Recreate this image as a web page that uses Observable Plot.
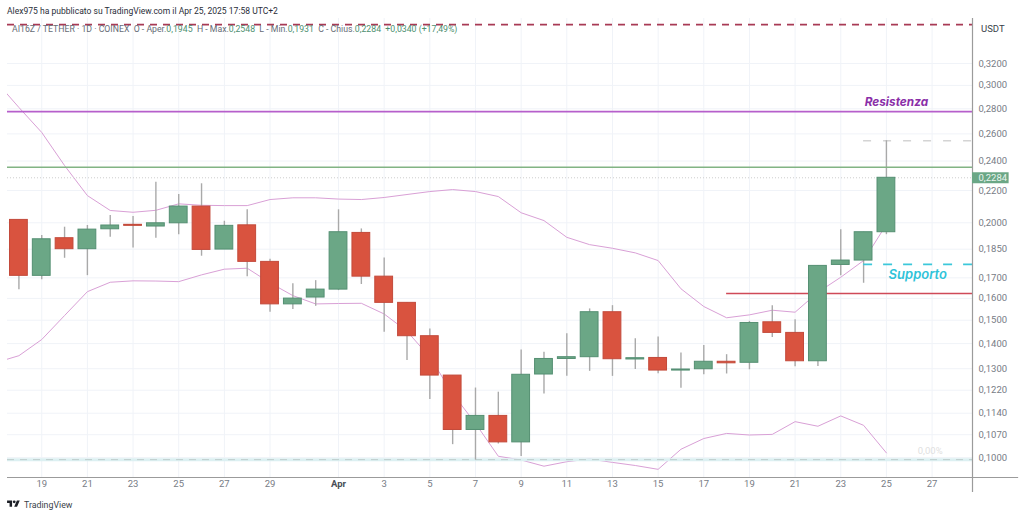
<!doctype html>
<html><head><meta charset="utf-8">
<script src="https://cdn.jsdelivr.net/npm/d3@7"></script>
<script src="https://cdn.jsdelivr.net/npm/@observablehq/plot@0.6"></script>
<style>
html,body{margin:0;padding:0;background:#fff;overflow:hidden}
#wrap{position:relative;width:1024px;height:516px;font-family:Roboto,sans-serif}
#wrap svg.plot{display:block}
.ov{position:absolute;white-space:pre;line-height:12px}
.g{color:#4d8f70}.k{color:#666c76}
</style></head><body>
<div id="wrap"></div>
<script>
const firstDay = "2025-03-18";
const opens  = [.2017,.1710,.1911,.1850,.1962,.1988,.1978,.1997,.2098,.1848,.1985,.1782,.1572,.1604,.1642,.1941,.1706,.1579,.1431,.1274,.1085,.1131,.1046,.1278,.1338,.1345,.1536,.1336,.1342,.1293,.1298,.1327,.1323,.1491,.1445,.1329,.1766,.1789,.1945];
const highs  = [.2017,.1926,.1974,.1984,.2043,.2037,.2254,.2174,.2244,.2009,.2078,.1796,.1670,.1686,.2078,.1964,.1803,.1579,.1462,.1274,.1228,.1213,.1374,.1365,.1441,.1551,.1566,.1420,.1428,.1362,.1392,.1355,.1495,.1566,.1502,.1761,.1959,.1945,.2548];
const lows   = [.1641,.1690,.1801,.1711,.1916,.1857,.1911,.1930,.1812,.1848,.1706,.1536,.1548,.1563,.1637,.1667,.1448,.1332,.1187,.1039,.0993,.1041,.1003,.1207,.1271,.1290,.1271,.1297,.1281,.1227,.1277,.1280,.1296,.1426,.1308,.1309,.1711,.1673,.1931];
const closes = [.1710,.1905,.1850,.1960,.1984,.1982,.1997,.2098,.1846,.1982,.1782,.1572,.1599,.1642,.1945,.1706,.1579,.1431,.1274,.1085,.1131,.1046,.1277,.1338,.1345,.1536,.1337,.1341,.1293,.1297,.1327,.1321,.1488,.1445,.1329,.1761,.1789,.1945,.2284];
const upperBand = [.3035,.2811,.2611,.2368,.2167,.2074,.2063,.2075,.2115,.2106,.2104,.2104,.2142,.2153,.2153,.2145,.2142,.2155,.2174,.2193,.2206,.2193,.2161,.2060,.2013,.1916,.1875,.1855,.1830,.1789,.1646,.1562,.1511,.1524,.1545,.1536,.1629,.1703,.1789,.1990];
const lowerBand = [.1324,.1351,.1417,.1521,.1632,.1678,.1685,.1684,.1681,.1715,.1744,.1749,.1675,.1613,.1574,.1576,.1577,.1528,.1452,.1345,.1208,.1106,.1004,.0993,.0975,.0988,.0996,.0986,.0977,.0966,.1025,.1058,.1074,.1069,.1071,.1112,.1097,.1131,.1100,.1014];
const yTicks = [.32,.30,.28,.26,.24,.22,.20,.185,.17,.16,.15,.14,.13,.122,.114,.107,.10];
const xTickDays = ["03-19","03-21","03-23","03-25","03-27","03-29","04-03","04-05","04-07","04-09","04-11","04-13","04-15","04-17","04-19","04-21","04-23","04-25","04-27"];
const aprilTick = "04-01";
const resistanceTop = .359, resistance = .2777, lastHigh = .2548, greenLevel = .2356, lastClose = .2284, supportDash = .1769, supportLine = .1623, zeroLevel = .0994;

const day = s => new Date(`2025-${s}T00:00:00Z`);
const shift = (d, n) => new Date(+d + n * 864e5);
const start = new Date(firstDay + "T00:00:00Z");
const candles = opens.map((o, i) => ({date: shift(start, i), open: o, high: highs[i], low: lows[i], close: closes[i]}));
const upper = upperBand.map((v, i) => ({date: shift(start, i - 1), v}));
const lower = lowerBand.map((v, i) => ({date: shift(start, i - 1), v}));
const xMin = new Date("2025-03-17T12:00:00Z"), xMax = new Date("2025-04-28T18:30:00Z");
const yMin = .0943, yMax = .3655;
const fmt = v => d3.format(".4f")(v).replace(".", ",");
const ticksX = xTickDays.map(day);
const gridC = "#f0f3f8";

const plot = Plot.plot({
  width: 1024, height: 516, marginLeft: 7, marginRight: 52, marginTop: 18, marginBottom: 39,
  style: {fontFamily: "Roboto, sans-serif", fontSize: "9.5px", background: "transparent"},
  x: {type: "utc", domain: [xMin, xMax]},
  y: {type: "log", domain: [yMin, yMax]},
  color: {type: "identity"},
  marks: [
    Plot.gridY({ticks: yTicks, stroke: gridC, strokeOpacity: 1}),
    Plot.gridX({ticks: [...ticksX, day(aprilTick)], stroke: gridC, strokeOpacity: 1}),
    Plot.line(upper, {x: "date", y: "v", stroke: "#d9a0d6", strokeWidth: 1, clip: true}),
    Plot.line(lower, {x: "date", y: "v", stroke: "#d9a0d6", strokeWidth: 1, clip: true}),
    Plot.ruleY([lastClose], {stroke: "#cdcdcd", strokeWidth: 1, strokeDasharray: "1,2"}),
    Plot.ruleY([zeroLevel], {stroke: "#dcf0f2", strokeWidth: 3}),
    Plot.ruleY([zeroLevel], {stroke: "#bdcccc", strokeWidth: 1, strokeDasharray: "7,6"}),
    Plot.ruleY([supportLine], {x1: day("04-18"), x2: xMax, stroke: "#cf4a58", strokeWidth: 1.6}),
    Plot.ruleY([lastHigh], {x1: day("04-24"), x2: xMax, stroke: "#d4d4d4", strokeWidth: 1.5, strokeDasharray: "8,12"}),
    Plot.ruleX(candles, {x: "date", y1: "low", y2: "high", stroke: "#a9a9a9", strokeWidth: 1.4}),
    Plot.rect(candles, {
      x1: d => shift(d.date, -0.39), x2: d => shift(d.date, 0.39), y1: "open", y2: "close",
      fill: d => d.close >= d.open ? "#6ba786" : "#d9533f",
      stroke: d => d.close >= d.open ? "#548f72" : "#c34a3b", strokeWidth: 1
    }),
    Plot.ruleY([supportDash], {x1: day("04-24"), x2: xMax, stroke: "#3cc8da", strokeWidth: 1.8, strokeDasharray: "9,11"}),
    Plot.ruleY([greenLevel], {stroke: "#82b484", strokeWidth: 1.6}),
    Plot.ruleY([resistance], {stroke: "#b65fcb", strokeWidth: 1.6}),
    Plot.ruleY([resistanceTop], {stroke: "#a83a55", strokeWidth: 1.6, strokeDasharray: "7,6"}),
    Plot.text(["Resistenza"], {x: new Date("2025-04-25T10:30:00Z"), y: .2852, text: d => d, fill: "#8a2fa8", fontFamily: "Inter, sans-serif", fontSize: 11.8, fontWeight: 700, fontStyle: "italic"}),
    Plot.text(["Supporto"], {x: new Date("2025-04-26T09:00:00Z"), y: .1716, text: d => d, fill: "#2fc3d9", fontFamily: "Inter, sans-serif", fontSize: 13, fontWeight: 600, fontStyle: "italic"}),
    Plot.text(["0,00%"], {x: new Date("2025-04-26T22:00:00Z"), y: .102, text: d => d, fill: "#dfdfdf", fontSize: 9.5}),
    Plot.ruleX([xMax], {y1: yMax, y2: .0902, stroke: "#9b9b9b", strokeWidth: 1.2}),
    Plot.ruleY([yMin], {x1: xMin, x2: new Date("2025-04-30T19:00:00Z"), stroke: "#9b9b9b", strokeWidth: 1.2}),
    Plot.axisX({ticks: ticksX, tickFormat: d => d.getUTCDate(), tickSize: 0, tickPadding: 3, label: null, fill: "#777c85"}),
    Plot.axisX({ticks: [day(aprilTick)], tickFormat: () => "Apr", tickSize: 0, tickPadding: 3, label: null, fill: "#4a4f57", fontWeight: 700}),
    Plot.axisY({anchor: "right", ticks: yTicks, tickFormat: fmt, tickSize: 0, tickPadding: 6, label: null, fill: "#777c85"}),
    Plot.ruleY([lastClose], {x1: xMax, x2: new Date("2025-04-30T09:00:00Z"), stroke: "#6ba786", strokeWidth: 11}),
    Plot.text([lastClose], {x: xMax, y: d => d, text: fmt, dx: 6, textAnchor: "start", fill: "#e9f5ee"})
  ]
});
plot.classList.add("plot");
const wrap = document.getElementById("wrap");
wrap.appendChild(plot);

function overlay(html, css) {
  const el = document.createElement("div");
  el.className = "ov";
  el.style.cssText = css;
  el.innerHTML = html;
  wrap.appendChild(el);
}
overlay("Alex975 ha pubblicato su TradingView.com il Apr 25, 2025 17:58 UTC+2", "left:7px;top:5px;font-size:8.55px;color:#2a2e39");
overlay('<span class="k">AI16Z / TETHER · 1D · COINEX  O - Aper.</span><span class="g">0,1945</span><span class="k">  H - Max.</span><span class="g">0,2548</span><span class="k">  L - Min.</span><span class="g">0,1931</span><span class="k">  C - Chius.</span><span class="g">0,2284  +0,0340 (+17,49%)</span>', "left:12px;top:23px;font-size:8.72px");
overlay("USDT", "left:981px;top:23px;font-size:9.5px;color:#3a3f49");
overlay('<svg width="13" height="10" viewBox="0 0 36 28" style="vertical-align:-1px;margin-right:4px"><path d="M14 22H7V11H0V4h14v18zM28 22h-8l7.5-18h8L28 22z" fill="#1c1f26"/><circle cx="20" cy="8" r="4" fill="#1c1f26"/></svg>TradingView', "left:7px;top:499px;font-size:8.8px;color:#3a3f49");
</script>
</body></html>
